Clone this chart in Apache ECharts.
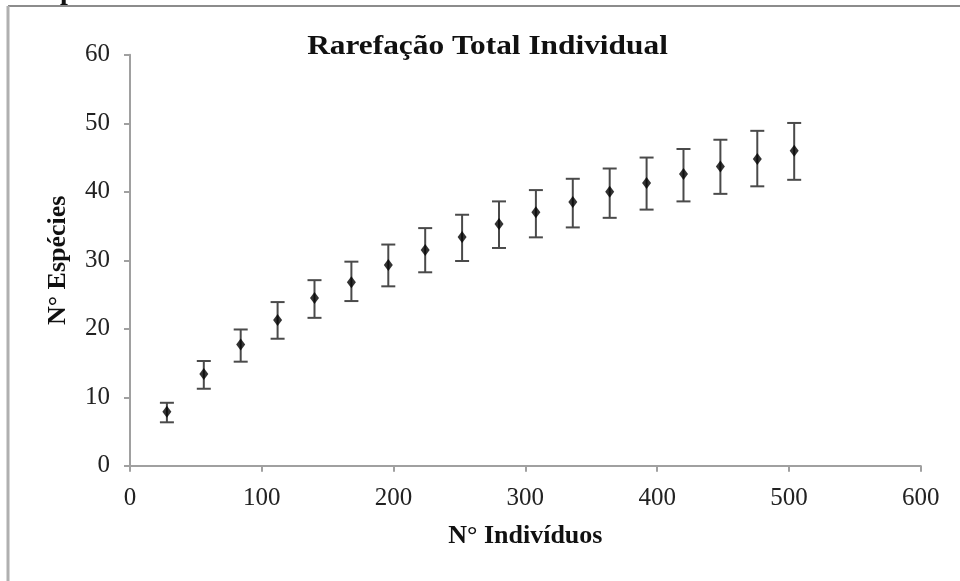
<!DOCTYPE html>
<html>
<head>
<meta charset="utf-8">
<script src="https://cdn.jsdelivr.net/npm/echarts@6/dist/echarts.min.js"></script>
<style>
  html, body { margin: 0; padding: 0; background: #ffffff; }
  #chart { width: 960px; height: 581px; }
</style>
</head>
<body>
<div id="chart"></div>
<script>
// Rarefaction curve: number of individuals sampled vs. expected species, with error bars
var individuals = [28, 56, 84, 112, 140, 168, 196, 224, 252, 280, 308, 336, 364, 392, 420, 448, 476, 504];
var species     = [7.9, 13.4, 17.7, 21.3, 24.5, 26.8, 29.3, 31.5, 33.4, 35.3, 37.0, 38.5, 40.0, 41.3, 42.6, 43.7, 44.8, 46.0];
var lowerBound  = [6.35, 11.25, 15.2, 18.55, 21.6, 24.05, 26.2, 28.25, 29.9, 31.8, 33.35, 34.8, 36.2, 37.4, 38.6, 39.7, 40.8, 41.75];
var upperBound  = [9.2, 15.3, 19.9, 23.9, 27.1, 29.8, 32.3, 34.7, 36.65, 38.6, 40.25, 41.9, 43.4, 45.0, 46.25, 47.6, 48.9, 50.05];

var xTicks = [0, 100, 200, 300, 400, 500, 600];
var yTicks = [0, 10, 20, 30, 40, 50, 60];

var titleText = 'Rarefação Total Individual';
var xName = 'N° Indivíduos';
var yName = 'N° Espécies';

var serif = '"Liberation Serif", "DejaVu Serif", serif';

var points = individuals.map(function (x, i) { return [x, species[i]]; });
var bars = individuals.map(function (x, i) { return [x, lowerBound[i], upperBound[i]]; });

var chart = echarts.init(document.getElementById('chart'), null, { renderer: 'canvas' });

var option = {
  backgroundColor: '#ffffff',
  animation: false,
  grid: { left: 130, right: 39.3, top: 54.8, bottom: 115.2 },
  xAxis: {
    type: 'value',
    min: xTicks[0],
    max: xTicks[xTicks.length - 1],
    interval: 100,
    name: xName,
    nameLocation: 'middle',
    nameGap: 57,
    nameTextStyle: { fontFamily: serif, fontWeight: 'bold', fontSize: 26, color: '#111111' },
    axisLine: { show: true, lineStyle: { color: '#a0a0a0', width: 2 } },
    axisTick: { show: true, inside: false, length: 6, lineStyle: { color: '#a0a0a0', width: 2 } },
    axisLabel: { fontFamily: serif, fontSize: 25, color: '#222222', margin: 20 },
    splitLine: { show: false }
  },
  yAxis: {
    type: 'value',
    min: yTicks[0],
    max: yTicks[yTicks.length - 1],
    interval: 10,
    name: yName,
    nameLocation: 'middle',
    nameGap: 59,
    nameTextStyle: { fontFamily: serif, fontWeight: 'bold', fontSize: 26, color: '#111111' },
    axisLine: { show: true, lineStyle: { color: '#a0a0a0', width: 2 } },
    axisTick: { show: true, inside: false, length: 6, lineStyle: { color: '#a0a0a0', width: 2 } },
    axisLabel: { fontFamily: serif, fontSize: 25, color: '#222222', margin: 20 },
    splitLine: { show: false }
  },
  graphic: [
    // frame around the chart area (top and left edges)
    { type: 'line', shape: { x1: 8, y1: 6, x2: 960, y2: 6 }, style: { stroke: '#8c8c8c', lineWidth: 2 }, z: 10 },
    { type: 'line', shape: { x1: 8, y1: 6, x2: 8, y2: 581 }, style: { stroke: '#b0b0b0', lineWidth: 3 }, z: 10 },
    // descender of the caption line above the frame
    { type: 'text', left: 60, top: -22, style: { text: 'p', font: 'bold 28px ' + serif, fill: '#111111' }, z: 10 },
    // chart title, set slightly wide
    {
      type: 'text', x: 487.5, y: 33, scaleX: 1.12, scaleY: 1,
      style: { text: titleText, font: 'bold 28px ' + serif, fill: '#111111', textAlign: 'center', textVerticalAlign: 'top' },
      z: 10
    }
  ],
  series: [
    {
      type: 'custom',
      name: 'erro',
      data: bars,
      renderItem: function (params, api) {
        var x = api.value(0);
        var lo = api.coord([x, api.value(1)]);
        var hi = api.coord([x, api.value(2)]);
        var half = 7;
        var st = { stroke: '#4a4a4a', lineWidth: 2 };
        return {
          type: 'group',
          children: [
            { type: 'line', shape: { x1: lo[0], y1: lo[1], x2: hi[0], y2: hi[1] }, style: st },
            { type: 'line', shape: { x1: hi[0] - half, y1: hi[1], x2: hi[0] + half, y2: hi[1] }, style: st },
            { type: 'line', shape: { x1: lo[0] - half, y1: lo[1], x2: lo[0] + half, y2: lo[1] }, style: st }
          ]
        };
      },
      encode: { x: 0, y: [1, 2] },
      z: 2
    },
    {
      type: 'scatter',
      name: 'espécies',
      data: points,
      symbol: 'diamond',
      symbolSize: [9, 12],
      itemStyle: { color: '#000000' },
      z: 3
    }
  ]
};

chart.setOption(option);
</script>
</body>
</html>
